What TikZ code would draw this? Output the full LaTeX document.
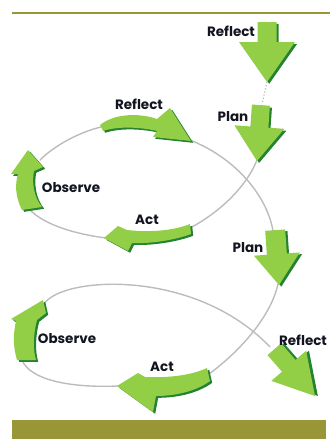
\documentclass[tikz,border=0pt]{standalone}
\usepackage{fontspec}
\setmainfont{Poppins}
\definecolor{agreen}{RGB}{146,206,70}
\definecolor{dgreen}{RGB}{36,130,50}
\definecolor{loopgray}{RGB}{188,188,188}
\definecolor{olivec}{RGB}{152,150,54}
\definecolor{txt}{RGB}{18,20,32}
\tikzset{
  lbl/.style={font=\bfseries\fontsize{13.5}{15}\selectfont, text=txt, inner sep=0pt},
  loopline/.style={draw=loopgray, line width=1.4pt, line cap=round},
}
\newcommand\garrow[1]{%
  \begin{scope}[shift={(2.2,1.8)}]\fill[dgreen] #1;\end{scope}
  \fill[agreen] #1;}
% straight down-pointing block arrow, tip at origin
\newcommand\downshape[4]{% shaft half, head half, head length, shaft length
  (-#1,-#3-#4) -- (#1,-#3-#4) -- (#1,-#3) -- (#2,-#3) -- (0,0) -- (-#2,-#3) -- (-#1,-#3) -- cycle}
\begin{document}
\begin{tikzpicture}[x=1pt,y=-1pt]
\useasboundingbox (0,0) rectangle (330,439);
% frame elements
\draw[olivec, line width=2pt] (12,12.5) -- (330,12.5);
\fill[olivec] (12,420) rectangle (326,439);

% named coordinates for loop connections
\coordinate (p1tip) at (257,160);
\coordinate (a1tail) at (190,228);
\coordinate (a1tip) at (106,238);
\coordinate (o1tail) at (30,210);
\coordinate (o1head) at (40,160);
\coordinate (r1tail) at (101,127);
\coordinate (r1tip) at (190,140);
\coordinate (p2top) at (273,231);
\coordinate (p2tip) at (278,284);
\coordinate (a2tail) at (209,374);
\coordinate (a2tip) at (118,386);
\coordinate (o2tail) at (22,360);
\coordinate (o2head) at (44,304);
\coordinate (r2tail) at (270,347);
\coordinate (r1top) at (267,82);
\coordinate (p1top) at (262,104);

% gray loop lines
\draw[loopline] (p1tip) .. controls (245,190) and (215,215) .. (a1tail);
\draw[loopline] (a1tip) .. controls (75,234) and (45,225) .. (o1tail);
\draw[loopline] (o1head) .. controls (55,145) and (80,132) .. (r1tail);
\draw[loopline] (r1tip) .. controls (240,160) and (268,200) .. (p2top);
\draw[loopline] (p2tip) .. controls (270,320) and (235,355) .. (a2tail);
\draw[loopline] (a2tip) .. controls (70,388) and (30,380) .. (o2tail);
\draw[loopline] (o2head) .. controls (62,276) and (195,268) .. (r2tail);
\draw[loopgray, line width=1.2pt, dotted] (r1top) -- (p1top);

% straight arrows
\begin{scope}[shift={(267,82)}]\garrow{\downshape{9.5}{28}{40}{20}}\end{scope}
\begin{scope}[shift={(257,161)},rotate=-4]\garrow{\downshape{9}{25}{34}{22}}\end{scope}
\begin{scope}[shift={(279,285)},rotate=4]\garrow{\downshape{10}{23}{31}{24}}\end{scope}
\begin{scope}[shift={(315,396)},rotate=41]\garrow{\downshape{9}{23}{40}{22}}\end{scope}

% curved arrows
\garrow{(100,125) .. controls (115,113) and (140,113) .. (157,119) -- (170,108) -- (191,141) -- (153,137) -- (157,131) .. controls (140,127) and (118,126) .. (103,131) -- cycle}
\garrow{(190,224) .. controls (170,232) and (145,232) .. (127,230) -- (118,226) -- (104,238) -- (128,251) -- (132,243) .. controls (150,244) and (175,240) .. (191,234) -- cycle}
\garrow{(207,368) .. controls (190,376) and (165,378) .. (145,377) -- (138,373) -- (117,386) -- (153,412) -- (156,396) .. controls (178,396) and (198,390) .. (210,381) -- cycle}
\garrow{(22,210) .. controls (15,196) and (15,184) .. (18,174) -- (11,174) -- (28,150) -- (43,167) -- (34,171) .. controls (32,181) and (33,196) .. (42,207) -- cycle}
\garrow{(17,360) .. controls (13,346) and (13,335) .. (16,321) -- (11,319) -- (43,300) -- (46,313) -- (37,320) .. controls (33,335) and (33,350) .. (36,360) -- cycle}

% labels
\node[lbl] (lreflect0) at (231,31) {Reflect};
\node[lbl] (lplan1) at (233,117) {Plan};
\node[lbl] (lreflect1) at (139,104) {Reflect};
\node[lbl] (lobserve1) at (71,188) {Observe};
\node[lbl] (lact1) at (147,220) {Act};
\node[lbl] (lplan2) at (248,248) {Plan};
\node[lbl] (lobserve2) at (67,339) {Observe};
\node[lbl] (lact2) at (162,367) {Act};
\node[lbl] (lreflect2) at (303,340) {Reflect};
\end{tikzpicture}
\end{document}
